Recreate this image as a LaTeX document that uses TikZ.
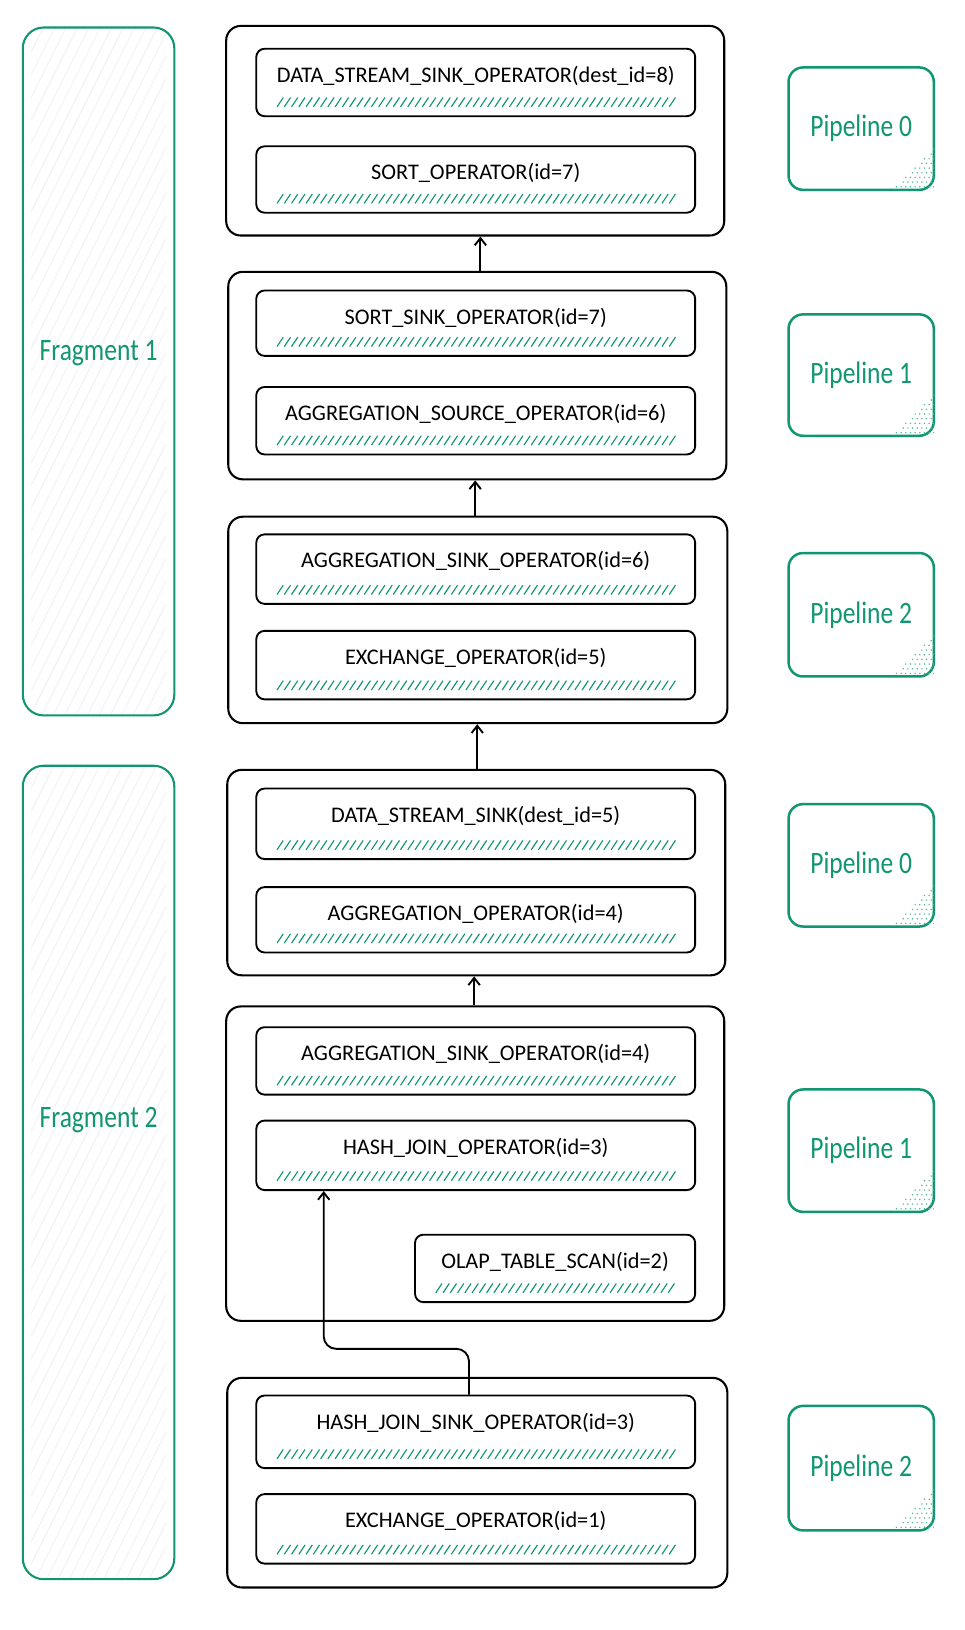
\documentclass[tikz,border=0pt]{standalone}
\usepackage{fontspec}
\setmainfont{Carlito}
\usetikzlibrary{arrows.meta}
\definecolor{teal1}{RGB}{16,150,112}
\newcommand{\gtx}[1]{\scalebox{0.82}[1]{#1}}
\begin{document}
\begin{tikzpicture}[x=1pt,y=-1pt,
  outer/.style={draw=black,line width=2pt,rounded corners=14pt},
  inner/.style={draw=black,line width=1.8pt,rounded corners=8pt},
  frag/.style={draw=teal1,line width=2pt,rounded corners=20pt},
  pipe/.style={draw=teal1,line width=2.4pt,rounded corners=14pt},
  optext/.style={font=\fontsize{21.5}{24}\selectfont,anchor=center},
  gtext/.style={font=\fontsize{30}{32}\selectfont,text=teal1},
  arr/.style={-{Straight Barb[length=7pt,width=11pt,line width=1.8pt]},line width=1.8pt}]
\useasboundingbox (0,0) rectangle (930,1571);
\fill[white] (0,0) rectangle (930,1571);
\newcommand{\opbox}[6]{%
  \node[inner,minimum width={#4-#2},minimum height={#5-#3},inner sep=0pt] (#1) at ({(#2+#4)/2},{(#3+#5)/2}) {};
  \node[optext] (#1t) at ({(#2+#4)/2},{#3+26}) {#6};
  \foreach \hx in {0,7,...,380}{\pgfmathsetmacro{\xx}{#2+20+\hx}\pgfmathparse{\xx+6<#4-18?1:0}\ifnum\pgfmathresult=1 \draw[teal1,line width=1.1pt] (\xx,{#5-9}) -- (\xx+6,{#5-18});\fi}
}
\newcommand{\obox}[5]{\node[outer,minimum width={#4-#2},minimum height={#5-#3},inner sep=0pt] (#1) at ({(#2+#4)/2},{(#3+#5)/2}) {};}
\newcommand{\pbox}[4]{\node[pipe,minimum width=140,minimum height={#4-#3},inner sep=0pt] (#1) at (830,{(#3+#4)/2}) {};
  \node[gtext] at (#1) {\gtx{#2}};
  \begin{scope}\clip (900,{#4}) -- (900,{#4-40}) -- (860,{#4}) -- cycle;
  \foreach \i in {0,...,8}{\foreach \j in {0,...,8}{\fill[teal1!70] ({864+\i*4.5+mod(\j,2)*2},{#4-3-\j*4.5}) circle (0.8);}}
  \end{scope}}
% fragments
\begin{scope}
\clip[rounded corners=20pt] (22,27) rectangle (168,690);
\foreach \k in {0,22,...,900}{\draw[black!6,line width=0.8pt] (30,{50+\k}) -- (160,{50+\k-260});}
\end{scope}
\node[frag,minimum width=146,minimum height=663,inner sep=0pt] (f1) at (95,358) {};
\node[gtext] at (95,340) {\gtx{Fragment 1}};
\begin{scope}
\clip[rounded corners=20pt] (22,738) rectangle (168,1522);
\foreach \k in {0,22,...,1000}{\draw[black!6,line width=0.8pt] (30,{760+\k}) -- (160,{760+\k-260});}
\end{scope}
\node[frag,minimum width=146,minimum height=784,inner sep=0pt] (f2) at (95,1130) {};
\node[gtext] at (95,1080) {\gtx{Fragment 2}};
% pipelines
\pbox{p10}{Pipeline 0}{65}{183}
\pbox{p11}{Pipeline 1}{303}{420}
\pbox{p12}{Pipeline 2}{533}{652}
\pbox{p20}{Pipeline 0}{775}{893}
\pbox{p21}{Pipeline 1}{1050}{1168}
\pbox{p22}{Pipeline 2}{1355}{1475}
% outer boxes
\obox{b1}{218}{25}{698}{227}
\obox{b2}{220}{262}{700}{462}
\obox{b3}{220}{498}{701}{697}
\obox{b4}{219}{742}{699}{940}
\obox{b5}{218}{970}{698}{1273}
\obox{b6}{219}{1328}{701}{1530}
% operators
\opbox{o1}{247}{47}{670}{112}{DATA\_STREAM\_SINK\_OPERATOR(dest\_id=8)}
\opbox{o2}{247}{141}{670}{205}{SORT\_OPERATOR(id=7)}
\opbox{o3}{247}{280}{670}{343}{SORT\_SINK\_OPERATOR(id=7)}
\opbox{o4}{247}{373}{670}{438}{AGGREGATION\_SOURCE\_OPERATOR(id=6)}
\opbox{o5}{247}{515}{670}{582}{AGGREGATION\_SINK\_OPERATOR(id=6)}
\opbox{o6}{247}{608}{670}{674}{EXCHANGE\_OPERATOR(id=5)}
\opbox{o7}{247}{760}{670}{828}{DATA\_STREAM\_SINK(dest\_id=5)}
\opbox{o8}{247}{855}{670}{918}{AGGREGATION\_OPERATOR(id=4)}
\opbox{o9}{247}{990}{670}{1055}{AGGREGATION\_SINK\_OPERATOR(id=4)}
\opbox{o10}{247}{1080}{670}{1147}{HASH\_JOIN\_OPERATOR(id=3)}
\opbox{o11}{400}{1190}{670}{1255}{OLAP\_TABLE\_SCAN(id=2)}
\opbox{o12}{247}{1345}{670}{1415}{HASH\_JOIN\_SINK\_OPERATOR(id=3)}
\opbox{o13}{247}{1440}{670}{1507}{EXCHANGE\_OPERATOR(id=1)}
% arrows
\draw[arr] (b2.north -| 463,0) -- (b1.south -| 463,0);
\draw[arr] (b3.north -| 458,0) -- (b2.south -| 458,0);
\draw[arr] (b4.north -| 460,0) -- (b3.south -| 460,0);
\draw[arr] (b5.north -| 457,0) -- (b4.south -| 457,0);
\draw[arr,rounded corners=12pt] (o12.north -| 452,0) -- (452,1300) -- (312,1300) -- (o10.south -| 312,0);
\end{tikzpicture}
\end{document}
